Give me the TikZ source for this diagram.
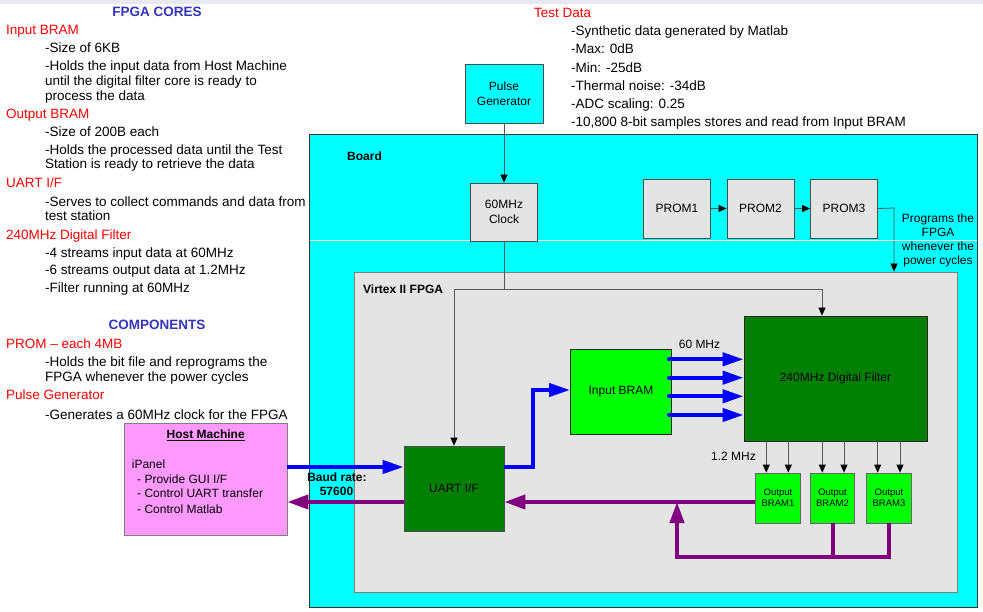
\documentclass[tikz,border=0pt]{standalone}
\usepackage{fontspec}
\setmainfont{Liberation Sans}
\usetikzlibrary{arrows.meta}
\definecolor{cyanbg}{HTML}{00FFFF}
\definecolor{pinkbg}{HTML}{FF99FF}
\definecolor{graybg}{HTML}{E4E4E4}
\definecolor{dgreen}{HTML}{008000}
\definecolor{lgreen}{HTML}{00FF00}
\definecolor{bblue}{HTML}{0000FF}
\definecolor{ppurple}{HTML}{800080}
\definecolor{hdrblue}{HTML}{3333BB}
\definecolor{band}{HTML}{E8E8F0}
\definecolor{tline}{HTML}{555555}
\begin{document}
\begin{tikzpicture}[x=1pt,y=-1pt,
  body/.style={anchor=west,inner sep=0pt,font=\fontsize{13.5}{16}\selectfont,text height=9.7pt,text depth=0pt},
  redhead/.style={body,text=red},
  cathead/.style={anchor=center,inner sep=0pt,font=\fontsize{13.5}{16}\selectfont\bfseries,text=hdrblue,text height=9.7pt,text depth=0pt},
  lbl/.style={inner sep=0pt,font=\fontsize{12}{14}\selectfont,text height=8.6pt,text depth=0pt},
  blbl/.style={lbl,font=\fontsize{12}{14}\selectfont\bfseries},
  box/.style={draw=black!85,line width=0.8pt,inner sep=0pt,align=center,font=\fontsize{12}{14.5}\selectfont},
  obox/.style={box,fill=lgreen,draw=black!60,minimum width=44.5pt,minimum height=50pt,font=\fontsize{9.5}{11.3}\selectfont},
  tarrow/.style={draw=tline,line width=0.8pt,-{Triangle[length=8pt,width=7pt,color=black]}},
  barrow/.style={draw=bblue,line width=4pt,-{Triangle[length=21pt,width=13pt]}},
  parrow/.style={draw=ppurple,line width=4pt,-{Triangle[length=21pt,width=14pt]}},
  pline/.style={draw=ppurple,line width=4pt}]
\useasboundingbox (0,0) rectangle (983,612);
\fill[band] (0,0) rectangle (983,4.5);

% left texts
\node[cathead] (t0) at (157,12) {FPGA CORES};
\node[redhead] (t1) at (6,29.3) {Input BRAM};
\node[body] (t2) at (45,47.7) {-Size of 6KB};
\node[body] (t3) at (45,65.3) {-Holds the input data from Host Machine};
\node[body] (t4) at (45,80.3) {until the digital filter core is ready to};
\node[body] (t5) at (45,95.7) {process the data};
\node[redhead] (t6) at (6,113.3) {Output BRAM};
\node[body] (t7) at (45,131.3) {-Size of 200B each};
\node[body] (t8) at (45,149.7) {-Holds the processed data until the Test};
\node[body] (t9) at (45,164) {Station is ready to retrieve the data};
\node[redhead] (t10) at (6,182.7) {UART I/F};
\node[body] (t11) at (45,201.3) {-Serves to collect commands and data from};
\node[body] (t12) at (45,215.3) {test station};
\node[redhead] (t13) at (6,234.3) {240MHz Digital Filter};
\node[body] (t14) at (45,252.7) {-4 streams input data at 60MHz};
\node[body] (t15) at (45,270) {-6 streams output data at 1.2MHz};
\node[body] (t16) at (45,287.7) {-Filter running at 60MHz};
\node[cathead] (t17) at (157,324.3) {COMPONENTS};
\node[redhead] (t18) at (6,343.3) {PROM – each 4MB};
\node[body] (t19) at (45,361.7) {-Holds the bit file and reprograms the};
\node[body] (t20) at (45,376.7) {FPGA whenever the power cycles};
\node[redhead] (t21) at (6,394.3) {Pulse Generator};
\node[body] (t22) at (45,415) {-Generates a 60MHz clock for the FPGA};

% test data
\node[redhead] (d0) at (534,12.3) {Test Data};
\node[body] (d1) at (571,30.7) {-Synthetic data generated by Matlab};
\node[body] (d2) at (571,49) {-Max: 0dB};
\node[body] (d3) at (571,67.7) {-Min: -25dB};
\node[body] (d4) at (571,85.7) {-Thermal noise: -34dB};
\node[body] (d5) at (571,103.7) {-ADC scaling: 0.25};
\node[body] (d6) at (571,121.7) {-10,800 8-bit samples stores and read from Input BRAM};

% board and fpga
\node[box,fill=cyanbg,draw=black!80,minimum width=668pt,minimum height=473pt] (board) at (643,370.5) {};
\draw[white,line width=0.8pt] (309.5,240.5) -- (976.5,240.5);
\node[box,fill=graybg,draw=gray,minimum width=603pt,minimum height=320pt] (fpga) at (655.5,432) {};
\node[blbl,anchor=west] (boardlbl) at (347,156) {Board};
\node[blbl,anchor=west] (fpgalbl) at (363,289.5) {Virtex II FPGA};

% blocks
\node[box,fill=cyanbg,draw=black!70,minimum width=78pt,minimum height=59pt] (pulse) at (504,93.5) {Pulse\\Generator};
\node[box,fill=graybg,draw=black!70,minimum width=67pt,minimum height=58pt] (clock) at (504,212) {60MHz\\Clock};
\node[box,fill=graybg,draw=black!70,minimum width=67pt,minimum height=59pt] (prom1) at (677,208.5) {PROM1};
\node[box,fill=graybg,draw=black!70,minimum width=67pt,minimum height=59pt] (prom2) at (760.5,208.5) {PROM2};
\node[box,fill=graybg,draw=black!70,minimum width=67pt,minimum height=59pt] (prom3) at (844,208.5) {PROM3};
\node[box,fill=dgreen,minimum width=183pt,minimum height=125pt] (filter) at (835.5,378.5) {240MHz Digital Filter};
\node[box,fill=lgreen,minimum width=101pt,minimum height=85pt] (inbram) at (621,391.5) {Input BRAM};
\node[box,fill=dgreen,draw=black!70,minimum width=100pt,minimum height=85pt] (uart) at (454,488.5) {UART I/F};
\node[obox] (ob1) at (778,498) {Output\\BRAM1};
\node[obox] (ob2) at (832.5,498) {Output\\BRAM2};
\node[obox] (ob3) at (889,498) {Output\\BRAM3};
\node[box,fill=pinkbg,draw=gray,minimum width=163pt,minimum height=112pt] (host) at (205.5,479) {};
\node[blbl] (hosttitle) at (205.7,434) {\underline{Host Machine}};
\node[lbl,anchor=west] (h1) at (131.7,463.7) {iPanel};
\node[lbl,anchor=west] (h2) at (137,479) {- Provide GUI I/F};
\node[lbl,anchor=west] (h3) at (137,493.5) {- Control UART transfer};
\node[lbl,anchor=west] (h4) at (137,508.7) {- Control Matlab};

% clock connections
\draw[tarrow] (pulse.south) -- (clock.north);
\coordinate (cj) at (504,289.5);
\coordinate (cl) at (454,289.5);
\coordinate (cr) at (822,289.5);
\draw[draw=tline,line width=0.8pt] (clock.south) -- (cj);
\draw[draw=tline,line width=0.8pt] (cl) -- (cr);
\draw[tarrow] (cl) -- (uart.north);
\draw[tarrow] (cr) -- (cr |- filter.north);

% prom connections
\draw[tarrow] (prom1.east) -- (prom2.west);
\draw[tarrow] (prom2.east) -- (prom3.west);
\coordinate (pc) at (894,208);
\draw[tarrow] (prom3.east) -- (pc) -- (pc |- fpga.north);
\node[lbl] (pg1) at (938,218.3) {Programs the};
\node[lbl] (pg2) at (938,232.7) {FPGA};
\node[lbl] (pg3) at (938,246.3) {whenever the};
\node[lbl] (pg4) at (938,260) {power cycles};

% blue data path
\draw[barrow] (host.east |- 0,467) -- (uart.west |- 0,467);
\coordinate (bu) at (533,467);
\draw[barrow] (uart.east |- 0,467) -- (bu) -- (bu |- 0,390) -- (inbram.west |- 0,390);
\foreach \yy/\nn in {359.3/a,377.7/b,396.3/c,415/d}{
  \coordinate (s\nn) at (669,\yy);
  \draw[barrow,line cap=round] (s\nn) -- (filter.west |- s\nn);
}
\node[lbl] (l60) at (699.5,344) {60 MHz};

% filter to output brams
\foreach \xx in {766.3,788.3,822.3,844,877.7,900}{
  \draw[tarrow] (filter.south -| \xx,0) -- (ob1.north -| \xx,0);
}
\node[lbl] (l12) at (733.5,456) {1.2 MHz};

% purple return path
\draw[parrow] (ob1.west |- 0,502) -- (uart.east |- 0,502);
\draw[parrow] (uart.west |- 0,502) -- (host.east |- 0,502);
\coordinate (pb3) at (889,557);
\coordinate (pbl) at (677,557);
\coordinate (pb2) at (832.5,557);
\draw[parrow,line join=miter] (ob3.south) -- (pb3) -- (pbl) -- (pbl |- 0,502);
\draw[pline] (ob2.south) -- (pb2);

\node[blbl] (baud1) at (337,476.7) {Baud rate:};
\node[blbl] (baud2) at (336.5,491) {57600};
\end{tikzpicture}
\end{document}
